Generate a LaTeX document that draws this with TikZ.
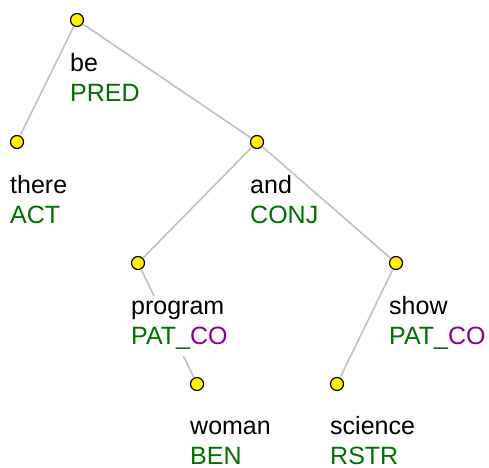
\documentclass[tikz,border=0pt]{standalone}
\usepackage{fontspec}
\setmainfont{Liberation Sans}
\definecolor{fgreen}{RGB}{0,112,0}
\definecolor{fpurple}{RGB}{140,0,140}
\definecolor{edgegray}{RGB}{192,192,192}
\tikzset{
  tnode/.style={circle, draw=black, line width=1.2pt, fill=yellow, minimum size=13pt, inner sep=0pt},
  edge/.style={draw=edgegray, line width=1.6pt},
  lbl/.style={fill=white, inner sep=0pt, text height=18pt, text depth=12pt, font=\fontsize{25}{30}\selectfont},
  word/.style={lbl, anchor=base west, text=black},
  func/.style={lbl, anchor=north west, text=fgreen},
  leaf/.style={func, text depth=0pt}
}
\begin{document}
\begin{tikzpicture}[x=1pt, y=-1pt]
	\useasboundingbox (0, 0) rectangle (489, 467);
	\node[tnode]	(be)	  at (77, 20)	{};
	\node[tnode]	(there)	  at (17, 142)	{};
	\node[tnode]	(and)	  at (257, 142)	{};
	\node[tnode]	(program) at (138, 263)	{};
	\node[tnode]	(show)	  at (396, 263)	{};
	\node[tnode]	(woman)	  at (197, 384)	{};
	\node[tnode]	(science) at (337, 384)	{};
	\draw[edge] (be) -- (there);
	\draw[edge] (be) -- (and);
	\draw[edge] (and) -- (program);
	\draw[edge] (and) -- (show);
	\draw[edge] (program) -- (woman);
	\draw[edge] (show) -- (science);
	% labels below the nodes
	\node[word]	(be-w)	    at (70, 71)	  {be};
	\node[func]	(be-f)	    at (be-w.south west) {PRED};
	\node[word]	(there-w)   at (10, 193)  {there};
	\node[func]	(there-f)   at (there-w.south west) {ACT};
	\node[word]	(and-w)	    at (250, 193) {and};
	\node[func]	(and-f)	    at (and-w.south west) {CONJ};
	\node[word]	(program-w) at (131, 314) {program};
	\node[func]	(program-f) at (program-w.south west) {PAT\_\textcolor{fpurple}{CO}};
	\node[word]	(show-w)    at (389, 314) {show};
	\node[func]	(show-f)    at (show-w.south west) {PAT\_\textcolor{fpurple}{CO}};
	\node[word]	(woman-w)   at (190, 434) {woman};
	\node[leaf]	(woman-f)   at (woman-w.south west) {BEN};
	\node[word]	(science-w) at (330, 434) {science};
	\node[leaf]	(science-f) at (science-w.south west) {RSTR};
\end{tikzpicture}
\end{document}
